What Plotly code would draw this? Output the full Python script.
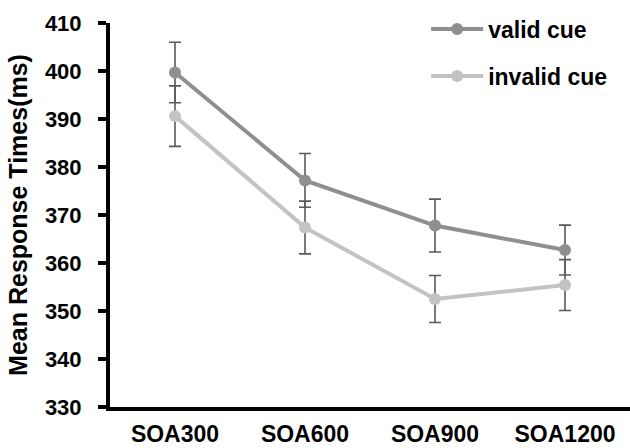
import plotly.graph_objects as go

categories = ["SOA300", "SOA600", "SOA900", "SOA1200"]
valid_rt = [399.7, 377.2, 367.8, 362.7]
valid_err = [6.3, 5.6, 5.5, 5.2]
invalid_rt = [390.6, 367.4, 352.5, 355.4]
invalid_err = [6.3, 5.5, 4.9, 5.3]
y_ticks = [330, 340, 350, 360, 370, 380, 390, 400, 410]

font_family = "Liberation Sans, Arial, sans-serif"
err_style = dict(type="data", color="#5a5a5a", thickness=1.6, width=6)

fig = go.Figure()
# error bars first so markers sit on top of them
for vals, errs in [(valid_rt, valid_err), (invalid_rt, invalid_err)]:
    fig.add_trace(go.Scatter(
        x=categories, y=vals, mode="markers", showlegend=False, hoverinfo="skip",
        marker=dict(size=1, opacity=0),
        error_y=dict(array=errs, **err_style),
    ))

fig.add_trace(go.Scatter(
    x=categories, y=valid_rt, name="valid cue", mode="lines+markers",
    line=dict(color="#8f8f8f", width=4),
    marker=dict(color="#8f8f8f", size=12),
    legendgroup="a",
))
fig.add_trace(go.Scatter(
    x=categories, y=invalid_rt, name="invalid cue", mode="lines+markers",
    line=dict(color="#c3c3c3", width=4),
    marker=dict(color="#c3c3c3", size=12),
    legendgroup="b",
))

fig.update_layout(
    template="none",
    width=630, height=448,
    margin=dict(l=110, r=0, t=23, b=41, autoexpand=False),
    paper_bgcolor="white", plot_bgcolor="white",
    font=dict(family=font_family, color="black"),
    showlegend=True,
    legend=dict(
        x=0.608, y=1.04, xanchor="left", yanchor="top",
        font=dict(size=23, family=font_family, color="black", weight="bold"),
        tracegroupgap=14, bgcolor="rgba(0,0,0,0)", itemwidth=52,
    ),
    xaxis=dict(
        type="category", range=[-0.5, 3.5], automargin=False,
        showline=True, linecolor="black", linewidth=4,
        ticks="", showgrid=False, zeroline=False,
        ticklabelstandoff=3,
        tickfont=dict(size=23, family=font_family, color="black", weight="bold"),
    ),
    yaxis=dict(
        range=[330, 410], tickvals=y_ticks, automargin=False,
        showline=True, linecolor="black", linewidth=4,
        ticks="outside", ticklen=8, tickwidth=4, tickcolor="black",
        showgrid=False, zeroline=False,
        ticklabelstandoff=12,
        tickfont=dict(size=22, family=font_family, color="black", weight="bold"),
        title=dict(text="Mean Response Times(ms)", standoff=11,
                   font=dict(size=25, family=font_family, color="black", weight="bold")),
    ),
)

fig.write_html(
    "out.html",
    config={"displayModeBar": False},
    post_script="document.body.style.margin='0px';document.body.style.overflow='hidden';",
)
